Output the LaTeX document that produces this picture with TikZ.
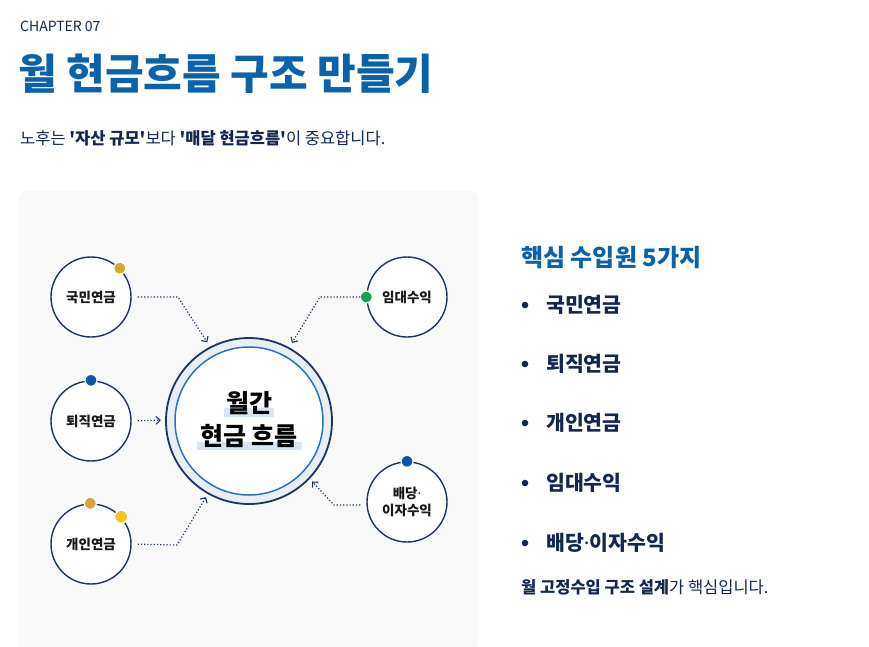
\documentclass[tikz,border=0pt]{standalone}
\usepackage{fontspec}
\setmainfont{Noto Sans CJK KR}[Ligatures=TeXOff]
\newfontfamily\latinf{Noto Sans}
\newcommand{\mdot}{{\latinf ·}}
\usetikzlibrary{arrows.meta}
\definecolor{navy}{HTML}{1C3563}
\definecolor{titleblue}{HTML}{0B62AB}
\definecolor{textnavy}{HTML}{14284F}
\definecolor{ringblue}{HTML}{2674BC}
\definecolor{panelbg}{HTML}{F9F9FA}
\definecolor{gold}{HTML}{D4A637}
\definecolor{yel}{HTML}{F4C21A}
\definecolor{dotblue}{HTML}{0B58A0}
\definecolor{dotgreen}{HTML}{17A05A}
\definecolor{hilite}{HTML}{D5E5F4}
\definecolor{bandgray}{HTML}{E9EEF4}
\tikzset{
  src/.style={circle, draw=navy, line width=1.4pt, fill=white, minimum size=80pt, inner sep=0pt, font=\bfseries\fontsize{13.5}{17}\selectfont, text=black!90, align=center},
  conn/.style={draw=navy, line width=1.2pt, dotted, -{Straight Barb[length=4pt,width=8pt,line width=1.1pt]}, shorten <=6pt, shorten >=5pt},
  dot/.style={circle, draw=white, line width=1.2pt, minimum size=12pt, inner sep=0pt},
  bullet/.style={anchor=west, inner sep=0pt, font=\bfseries\fontsize{20.5}{24}\selectfont, text=textnavy},
}
\begin{document}
\begin{tikzpicture}[x=1pt,y=-1pt]
\useasboundingbox (0,0) rectangle (869,646);
\fill[white] (0,0) rectangle (869,646);
% header
\node[anchor=west, inner sep=0pt, text=textnavy, font=\fontsize{14}{16}\selectfont] (chap) at (20,26) {CHAPTER 07};
\node[anchor=west, inner sep=0pt, text=titleblue, font=\bfseries\fontsize{42}{48}\selectfont] (title) at (18,74) {월 현금흐름 구조 만들기};
\node[anchor=west, inner sep=0pt, text=textnavy, font=\fontsize{16.5}{19}\selectfont] (sub) at (20,138) {노후는 \textbf{'자산 규모'}보다 \textbf{'매달 현금흐름'}이 중요합니다.};
% panel
\fill[panelbg, rounded corners=8pt] (19,191) rectangle (478,652);
% central node
\fill[bandgray] (249,421) circle (83);
\draw[navy, line width=1.8pt] (249,421) circle (83);
\fill[white] (249,421) circle (74);
\draw[ringblue, line width=1.5pt] (249,421) circle (74);
\fill[hilite] (224,408) rectangle (274,417);
\fill[hilite] (197,442) rectangle (302,450);
\node[circle, minimum size=166pt, inner sep=0pt, font=\bfseries\fontsize{25}{33}\selectfont, align=center, text=black] (c) at (249,420) {월간\\현금 흐름};
% sources
\node[src] (gm) at (91,297) {국민연금};
\node[src] (tj) at (91,421) {퇴직연금};
\node[src] (gi) at (91,544) {개인연금};
\node[src] (im) at (407,297) {임대수익};
\node[src] (bd) at (407,502) {배당\mdot\\이자수익};
% dots
\node[dot, fill=gold] at (gm.45) {};
\node[dot, fill=dotblue] at (tj.90) {};
\node[dot, fill=gold] at (gi.91) {};
\node[dot, fill=yel, minimum size=13pt] at (gi.42) {};
\node[dot, fill=dotgreen] at (im.180) {};
\node[dot, fill=dotblue] at (bd.90) {};
% connectors
\coordinate (b1) at (178,297);
\coordinate (b3) at (177,545);
\coordinate (b4) at (320,297);
\coordinate (b5) at (334,505);
\draw[conn] (gm.east) -- (b1) -- (c.118);
\draw[conn] (tj.east) -- (c.180);
\draw[conn] (gi.east) -- (b3) -- (c.241);
\draw[conn] (im.west) -- (b4) -- (c.61);
\draw[conn] ([yshift=-3pt]bd.west) -- (b5) -- (c.-44);
% right column
\node[anchor=west, inner sep=0pt, text=titleblue, font=\bfseries\fontsize{24}{28}\selectfont] (h) at (521,257) {핵심 수입원 5가지};
\foreach \yy/\tt/\nm in {305/국민연금/l1, 364/퇴직연금/l2, 423/개인연금/l3, 483/임대수익/l4, 543/배당\mdot 이자수익/l5}{
  \fill[textnavy] (525,\yy) circle (3.3);
  \node[bullet] (\nm) at (546,\yy) {\tt};
}
\node[anchor=west, inner sep=0pt, text=textnavy, font=\fontsize{16.5}{19}\selectfont] (foot) at (521,587) {\textbf{월 고정수입 구조 설계}가 핵심입니다.};
\end{tikzpicture}
\end{document}
